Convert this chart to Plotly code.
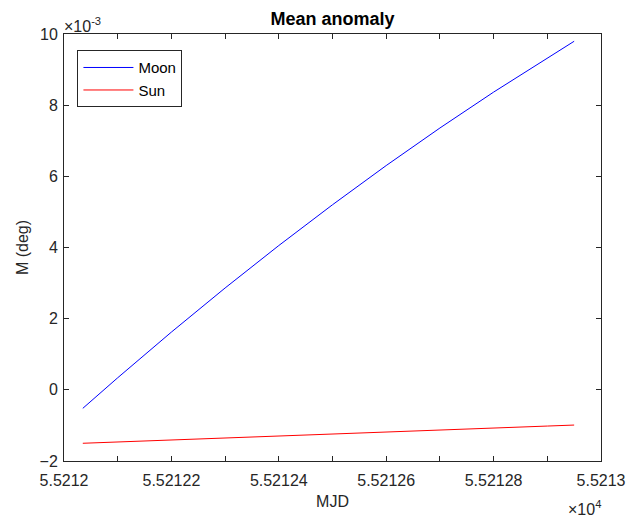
import plotly.graph_objects as go

# Data (MJD and mean anomaly in units of 1e-3 deg)
mjd = [55212.035, 55212.1, 55212.2, 55212.3, 55212.4, 55212.5,
       55212.6, 55212.7, 55212.8, 55212.9, 55212.95]
moon_e3 = [-0.52, 0.339, 1.623, 2.862, 4.055, 5.201, 6.303, 7.358, 8.367, 9.331, 9.796]
sun_e3 = [-1.502, -1.464, -1.408, -1.352, -1.297, -1.241, -1.185, -1.129, -1.074, -1.018, -0.990]

x_tickvals = [55212.0, 55212.2, 55212.4, 55212.6, 55212.8, 55213.0]
x_ticktext = ["5.5212", "5.52122", "5.52124", "5.52126", "5.52128", "5.5213"]
y_tickvals = [-2, 0, 2, 4, 6, 8, 10]

FONT = "Liberation Sans, Arial, sans-serif"
AX = "#262626"
TXT = "#262626"

fig = go.Figure()
fig.add_trace(go.Scatter(x=mjd, y=moon_e3, mode="lines", name="Moon",
                         line=dict(color="#0000ff", width=1)))
fig.add_trace(go.Scatter(x=mjd, y=sun_e3, mode="lines", name="Sun",
                         line=dict(color="#ff0000", width=1)))

axis_common = dict(showgrid=False, zeroline=False, showline=True, linecolor=AX,
                   linewidth=1, mirror="ticks", ticks="inside", ticklen=5,
                   tickcolor=AX, tickfont=dict(family=FONT, size=16, color=TXT))

fig.update_xaxes(range=[55212.0, 55213.0], tickvals=x_tickvals, ticktext=x_ticktext,
                 ticklabelstandoff=5,
                 minor=dict(ticks="inside", ticklen=5, tickcolor=AX, dtick=0.1,
                            tick0=55212.0),
                 title=dict(text="MJD", font=dict(family=FONT, size=16, color=TXT),
                            standoff=7),
                 **axis_common)
fig.update_yaxes(range=[-2, 10], tickvals=y_tickvals, ticklabelstandoff=2,
                 title=dict(text="M (deg)", font=dict(family=FONT, size=16, color=TXT),
                            standoff=6),
                 **axis_common)

fig.add_annotation(xref="paper", yref="paper", x=0, y=1, xanchor="left", yanchor="bottom",
                   text="×10<sup>-3</sup>", showarrow=False,
                   font=dict(family=FONT, size=16, color=TXT), xshift=-2, yshift=-3)
fig.add_annotation(xref="paper", yref="paper", x=1, y=0, xanchor="right", yanchor="top",
                   text="×10<sup>4</sup>", showarrow=False,
                   font=dict(family=FONT, size=16, color=TXT), yshift=-35, xshift=2)

fig.update_layout(
    width=638, height=521,
    margin=dict(l=64, r=37, t=34, b=60),
    paper_bgcolor="white", plot_bgcolor="white",
    title=dict(text="<b>Mean anomaly</b>", x=0.5, xref="paper", xanchor="center",
               y=1 - 19 / 521, yanchor="middle",
               font=dict(family=FONT, size=18, color="black")),
    showlegend=True,
    legend=dict(x=0.025, y=0.962, xanchor="left", yanchor="top",
                bgcolor="white", bordercolor=AX, borderwidth=1,
                font=dict(family=FONT, size=15, color="black"),
                itemwidth=50, tracegroupgap=0),
)

fig.write_html("out.html")
